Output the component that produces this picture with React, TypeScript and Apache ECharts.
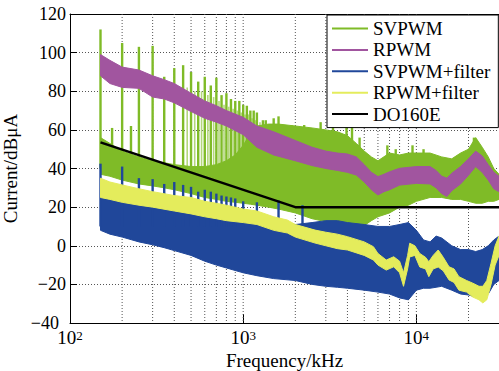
import React, { useEffect, useRef } from "react";
import * as echarts from "echarts";

// ---------- data (frequency in kHz, level in dBµA) ----------
const svpwmFreq = [150, 170, 200, 250, 300, 350, 400, 500, 600, 700, 800, 900, 1000, 1100, 1200, 1400, 1600, 2000, 2500, 3000, 3500, 4000, 4500, 5000, 5500, 6000, 7000, 8000, 9000, 10000, 12000, 14000, 16000, 18000, 20000, 22000, 24000, 26000, 28000, 30000];
const svpwmLow = [37, 36, 34, 32, 31, 30, 29, 27, 25, 24, 23, 22.5, 22, 21.5, 21, 20, 19, 17, 14, 12.5, 11, 10, 10, 10.5, 13, 15, 17, 20, 21, 23, 25, 25, 24, 24, 23, 22, 22, 23, 23, 24];
const svpwmHigh = [56, 53, 49, 46, 44, 43, 42, 41, 41, 42, 44, 47, 52, 58, 62, 63, 63, 62, 61, 60, 59, 57, 53, 49, 46, 44, 48, 47, 48, 48, 48, 46, 45, 48, 50, 56, 51, 46, 40, 37];
const svpwmSpikeFreq = [150, 175, 200, 225, 250, 300, 350, 400, 450, 500, 550, 600, 650, 700, 750, 800, 850, 900, 950, 1000, 1050, 1100, 1150, 1200, 1300, 1350, 1500, 1600, 1900, 2250, 2800, 3300, 3950, 4250, 4700, 6800, 7600, 9500, 11000, 21500];
const svpwmSpikePeak = [112, 61, 105, 62, 103, 103.5, 87.5, 92, 93.5, 90, 85, 87.5, 83, 87, 78, 79, 76, 75, 75, 73, 72.5, 70, 70, 69, 65, 65, 66, 67, 62.5, 62.5, 64, 62, 61.5, 61.5, 56, 52, 50, 52, 50, 56];
const svpwmPaleFreq = [475, 525, 575, 625, 675, 725, 775, 825, 875, 925, 975, 1025, 1075, 1125, 1175, 1250];
const svpwmPalePeak = [82, 80, 80, 78, 77, 75, 73, 72, 71, 70, 69, 68, 68, 66, 65, 64];

const rpwmFreq = [150, 170, 200, 250, 300, 350, 400, 500, 600, 700, 800, 1000, 1200, 1500, 2000, 2500, 3000, 3500, 4000, 4500, 5000, 5500, 6000, 6500, 7000, 8000, 10000, 12000, 13000, 14000, 15000, 16000, 18000, 20000, 22000, 24000, 26000, 28000, 30000];
const rpwmLow = [88, 84, 82, 81.5, 77, 76, 74, 69.5, 66, 64, 62, 57.5, 51, 47, 44, 41.5, 40, 39, 38, 36.6, 33, 29, 26.3, 28, 29, 31.4, 32.3, 32, 30, 27, 25.5, 28.5, 32, 36.5, 41, 38, 34, 29.5, 28];
const rpwmHigh = [99, 96, 92.5, 91, 88, 86, 84, 79, 75, 72.5, 70, 66.5, 62, 59, 54.5, 51, 49, 48, 47.5, 46, 42, 38, 35.8, 37, 38.3, 40.1, 41, 41, 39, 36, 35, 37.5, 41, 45, 49, 46.5, 42, 38, 36];

const svFiltFreq = [150, 170, 200, 250, 300, 350, 400, 500, 600, 700, 800, 1000, 1200, 1500, 2000, 2500, 3000, 3500, 4000, 5000, 6000, 7000, 8000, 9000, 10000, 11000, 12000, 13000, 14000, 16000, 18000, 20000, 22000, 24000, 26000, 28000, 30000];
const svFiltLow = [8, 6, 4.5, 2, 0.5, -1, -2.5, -5, -8, -10, -11.5, -14, -15.5, -17, -18, -20, -21, -21.5, -22, -23, -24, -25, -27, -28, -23, -22, -22, -21.5, -21, -23, -25, -25.5, -26.5, -27, -25, -20, -18];
const svFiltHigh = [28, 27, 26, 25, 23, 22, 21, 19, 18, 17, 16, 15, 14, 12, 11, 12, 13, 13, 12, 11, 10, 10, 11, 12, 8, 3, 2, 5, 4, 0, -2, -2, -3, -2, 0, 3, 5];
const svFiltSpikeFreq = [150, 200, 250, 300, 350, 400, 450, 500, 550, 600, 650, 700, 750, 800, 850, 900, 1000, 1200, 1600, 2200];
const svFiltSpikePeak = [42.5, 41, 35, 34.5, 32, 33, 31.5, 30.5, 28, 29, 28, 27, 26, 25.5, 25, 24.5, 23, 22.5, 23.5, 21];

const rpFiltFreq = [150, 170, 200, 250, 300, 400, 500, 600, 700, 800, 1000, 1200, 1500, 1800, 2000, 2600, 3000, 3500, 4000, 5000, 5650, 6000, 6700, 7400, 8000, 8430, 8900, 9150, 9800, 10460, 11300, 11800, 12500, 13370, 14300, 15440, 16500, 17600, 19500, 21200, 23000, 24200, 25500, 27000, 28500, 30000];
const rpFiltLow = [25, 24, 22.5, 21, 20, 18, 16.5, 15, 14, 13, 12, 11, 8, 6.6, 4.5, 1.4, 0, -1.5, -2.2, -5, -7.4, -10, -12.6, -10.9, -14, -21, -12, -5.8, -5, -11, -12, -16, -12, -11, -13, -17.7, -19, -23, -24, -26.6, -28, -29.6, -28, -20, -10, -5];
const rpFiltHigh = [35, 33, 31.5, 29.5, 28, 26, 25, 23, 22, 21, 19, 18, 15, 13.3, 11, 8.1, 7, 6, 4.7, 2, -0.5, -4, -7.4, -5.7, -8, -14, -5, 1.3, 0, -4, -6, -8.3, -5, -2.2, -6, -10.9, -12, -16, -18, -19.4, -21, -21, -18, -9, 0, 5];

const limitFreq = [150, 2000, 30000];
const limitLevel = [53.5, 20, 20];

const gridFreq = [200, 300, 400, 500, 600, 700, 800, 900, 1000, 2000, 3000, 4000, 5000, 6000, 7000, 8000, 9000, 10000, 20000];

const seriesNames = ["SVPWM", "RPWM", "SVPWM+filter", "RPWM+filter", "DO160E"];

// ---------- styles ----------
const GREEN = "#7fbb27";
const GREEN_PALE = "#b3d77c";
const PURPLE = "#a1559f";
const BLUE = "#20479a";
const YELLOW = "#e4ec5c";
const BLACK = "#000000";
const FONT = "Liberation Serif, Times New Roman, serif";

function bandSeries(name: string, color: string, freq: number[], low: number[], high: number[]) {
  return {
    type: "custom",
    name,
    z: 2,
    itemStyle: { color },
    data: freq.map((f, i) => [f, low[i], high[i]]),
    encode: { x: 0, y: [1, 2] },
    renderItem: (params: any, api: any) => {
      if (params.dataIndex !== 0) return null;
      const pts: number[][] = [];
      for (let i = 0; i < freq.length; i++) pts.push(api.coord([freq[i], high[i]]));
      for (let i = freq.length - 1; i >= 0; i--) pts.push(api.coord([freq[i], low[i]]));
      return {
        type: "polygon",
        shape: { points: pts },
        style: { fill: color, stroke: color, lineWidth: 1 },
      };
    },
  };
}

function spikeSeries(name: string, color: string, freq: number[], peak: number[], base: number, width: number) {
  return {
    type: "custom",
    name,
    z: 2,
    itemStyle: { color },
    data: freq.map((f, i) => [f, peak[i]]),
    encode: { x: 0, y: 1 },
    renderItem: (params: any, api: any) => {
      const f = api.value(0);
      const p = api.value(1);
      const a = api.coord([f, base]);
      const b = api.coord([f, p]);
      return {
        type: "line",
        shape: { x1: a[0], y1: a[1], x2: b[0], y2: b[1] },
        style: { stroke: color, lineWidth: width },
      };
    },
  };
}

export default function App() {
  const ref = useRef<HTMLDivElement>(null);

  useEffect(() => {
    if (!ref.current) return;
    const chart = echarts.init(ref.current, undefined, { renderer: "svg" });

    const option: any = {
      animation: false,
      backgroundColor: "#ffffff",
      textStyle: { fontFamily: FONT },
      grid: { left: 70, right: 0, top: 14, bottom: 48, containLabel: false, outerBoundsMode: "none" },
      legend: {
        orient: "vertical",
        left: 327,
        top: 15,
        padding: [4, 8, 4, 5],
        itemWidth: 36,
        itemHeight: 2,
        itemGap: 2.4,
        icon: "rect",
        selectedMode: false,
        backgroundColor: "#ffffff",
        borderColor: "#000",
        borderWidth: 1,
        textStyle: { fontSize: 19, lineHeight: 19, color: "#000", fontFamily: FONT },
        data: [
          { name: seriesNames[0], itemStyle: { color: GREEN } },
          { name: seriesNames[1], itemStyle: { color: PURPLE } },
          { name: seriesNames[2], itemStyle: { color: BLUE } },
          { name: seriesNames[3], itemStyle: { color: YELLOW } },
          { name: seriesNames[4], itemStyle: { color: BLACK } },
        ],
      },
      xAxis: [
        {
          type: "log",
          logBase: 10,
          min: 100,
          max: 30000,
          position: "bottom",
          axisLine: { show: true, onZero: false, lineStyle: { color: "#000", width: 1 } },
          axisTick: { show: true, inside: true, length: 9, lineStyle: { color: "#000" } },
          splitLine: { show: false },
          axisLabel: {
            color: "#000",
            fontSize: 19,
            fontFamily: FONT,
            margin: 6,
            lineHeight: 16,
            formatter: (v: number) => {
              const e = Math.round(Math.log10(v));
              if (Math.abs(v - Math.pow(10, e)) > 1e-6 * v) return "";
              return "10{s|" + e + "}";
            },
            rich: {
              s: { fontSize: 13, fontFamily: FONT, color: "#000", verticalAlign: "top", lineHeight: 10 },
            },
          },
          name: "Frequency/kHz",
          nameLocation: "middle",
          nameGap: 25,
          nameTextStyle: { fontSize: 19, color: "#000", fontFamily: FONT },
        },
        {
          type: "log",
          logBase: 10,
          min: 100,
          max: 30000,
          position: "top",
          axisLine: { show: true, onZero: false, lineStyle: { color: "#000", width: 1 } },
          axisTick: { show: false },
          axisLabel: { show: false },
          splitLine: { show: false },
        },
      ],
      yAxis: {
        type: "value",
        min: -40,
        max: 120,
        interval: 20,
        axisLine: { show: true, onZero: false, lineStyle: { color: "#000", width: 1 } },
        axisTick: { show: true, inside: true, length: 7, lineStyle: { color: "#000" } },
        axisLabel: {
          color: "#000",
          fontSize: 18,
          fontFamily: FONT,
          margin: 4,
          lineHeight: 13,
          formatter: (v: number, idx: number) => {
            const t = v < 0 ? "\u2212" + Math.abs(v) : String(v);
            return idx === 0 ? "{lo|" + t + "}" : t;
          },
          rich: { lo: { fontSize: 18, fontFamily: FONT, color: "#000", padding: [0, 7, 0, 0] } },
        },
        splitLine: { show: true, lineStyle: { type: [1, 2], color: "#555", width: 1 } },
        name: "Current/dB\u03bcA",
        nameLocation: "middle",
        nameGap: 36,
        nameTextStyle: { fontSize: 19, color: "#000", fontFamily: FONT },
      },
      series: [
        {
          type: "custom",
          name: "grid",
          z: 1,
          silent: true,
          data: gridFreq.map((f) => [f, 0]),
          encode: { x: 0, y: 1 },
          renderItem: (params: any, api: any) => {
            const f = api.value(0);
            const a = api.coord([f, 120]);
            const b = api.coord([f, -40]);
            return {
              type: "line",
              shape: { x1: a[0], y1: a[1], x2: b[0], y2: b[1] },
              style: { stroke: "#555", lineWidth: 1, lineDash: [1, 2] },
            };
          },
        },
        spikeSeries(seriesNames[0], GREEN_PALE, svpwmPaleFreq, svpwmPalePeak, 40, 1.6),
        spikeSeries(seriesNames[0], GREEN, svpwmSpikeFreq, svpwmSpikePeak, 40, 2.4),
        bandSeries(seriesNames[0], GREEN, svpwmFreq, svpwmLow, svpwmHigh),
        bandSeries(seriesNames[1], PURPLE, rpwmFreq, rpwmLow, rpwmHigh),
        bandSeries(seriesNames[2], BLUE, svFiltFreq, svFiltLow, svFiltHigh),
        spikeSeries(seriesNames[2], BLUE, svFiltSpikeFreq, svFiltSpikePeak, 10, 2.4),
        bandSeries(seriesNames[3], YELLOW, rpFiltFreq, rpFiltLow, rpFiltHigh),
        {
          type: "line",
          name: seriesNames[4],
          z: 3,
          symbol: "none",
          itemStyle: { color: BLACK },
          lineStyle: { color: BLACK, width: 2.5 },
          data: limitFreq.map((f, i) => [f, limitLevel[i]]),
        },
      ],
    };

    chart.setOption(option);
    return () => chart.dispose();
  }, []);

  return (
    <div
      ref={ref}
      style={{ position: "fixed", left: 0, top: 0, width: 499, height: 371, background: "#fff" }}
    />
  );
}
